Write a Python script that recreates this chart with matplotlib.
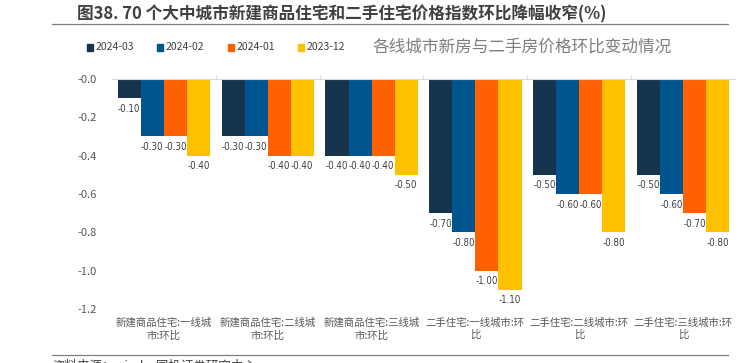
import numpy as np
import matplotlib.pyplot as plt
from matplotlib.patches import Rectangle
from matplotlib.lines import Line2D

plt.rcParams['font.family'] = ['Noto Sans CJK SC', 'DejaVu Sans']

# 数据
categories = ['新建商品住宅:一线城\n市:环比', '新建商品住宅:二线城\n市:环比', '新建商品住宅:三线城\n市:环比',
              '二手住宅:一线城市:环\n比', '二手住宅:二线城市:环\n比', '二手住宅:三线城市:环\n比']
series = ['2024-03', '2024-02', '2024-01', '2023-12']
v_2024_03 = [-0.10, -0.30, -0.40, -0.70, -0.50, -0.50]
v_2024_02 = [-0.30, -0.30, -0.40, -0.80, -0.60, -0.60]
v_2024_01 = [-0.30, -0.40, -0.40, -1.00, -0.60, -0.70]
v_2023_12 = [-0.40, -0.40, -0.50, -1.10, -0.80, -0.80]
values = [v_2024_03, v_2024_02, v_2024_01, v_2023_12]
colors = ['#17344f', '#00558f', '#ff6000', '#ffc000']

fig = plt.figure(figsize=(7.49, 3.63), dpi=100)
ax = fig.add_axes([0.1495, 0.1488, 0.8318, 0.6336])

x = np.arange(len(categories))
w = 0.222
for i, (vals, c) in enumerate(zip(values, colors)):
    pos = x + (i - 1.5) * w
    ax.bar(pos, vals, width=w, color=c, zorder=2)
    for px, v in zip(pos, vals):
        ax.annotate(f'{v:.2f}', (px, v), xytext=(0, -4), textcoords='offset points',
                    ha='center', va='top', fontsize=7, color='#404040',
                    family='DejaVu Sans', fontstretch='condensed')

ax.set_xlim(-0.5, len(categories) - 0.5)
ax.set_ylim(-1.2, 0)
ticks = np.arange(-1.2, 0.01, 0.2)
ax.set_yticks(ticks)
ax.set_yticklabels([f'{t:.1f}' for t in ticks])
ax.set_xticks(x)
ax.set_xticklabels(categories, fontsize=7.5, color='#595959', linespacing=1.3)
ax.set_xticks(np.arange(0.5, len(categories) - 0.5, 1), minor=True)
ax.tick_params(axis='x', which='major', length=0, pad=6)
ax.tick_params(axis='x', which='minor', top=True, bottom=False, length=3, color='#d9d9d9')
ax.tick_params(axis='y', length=0, labelsize=8, labelcolor='#595959', pad=11)
for s in ['left', 'right', 'bottom']:
    ax.spines[s].set_visible(False)
ax.spines['top'].set_color('#d9d9d9')

# 标题
fig.text(0.103, 0.961, '图38. 70 个大中城市新建商品住宅和二手住宅价格指数环比降幅收窄(%)',
         fontsize=12, fontweight='bold', color='#404040', va='center')
fig.add_artist(Line2D([52 / 749, 728 / 749], [1 - 24 / 363] * 2, color='#808080', lw=0.9))

# 图例
lx = [87, 157, 228, 298]
for xx, name, c in zip(lx, series, colors):
    fig.add_artist(Rectangle((xx / 749, 1 - 51 / 363), 6 / 749, 7 / 363, color=c))
    fig.text((xx + 9) / 749, 1 - 47 / 363, name, fontsize=7.5, color='#404040', va='center')
fig.text(373 / 749, 1 - 47 / 363, '各线城市新房与二手房价格环比变动情况', fontsize=12,
         color='#7f7f7f', va='center')

# 底部
fig.add_artist(Line2D([52 / 749, 728 / 749], [1 - 355 / 363] * 2, color='#808080', lw=0.9))
fig.text(52 / 749, 1 - 366 / 363, '资料来源：wind，国投证券研究中心', fontsize=9, style='italic',
         color='#404040', va='center')

fig.savefig('out.png', dpi=100)
